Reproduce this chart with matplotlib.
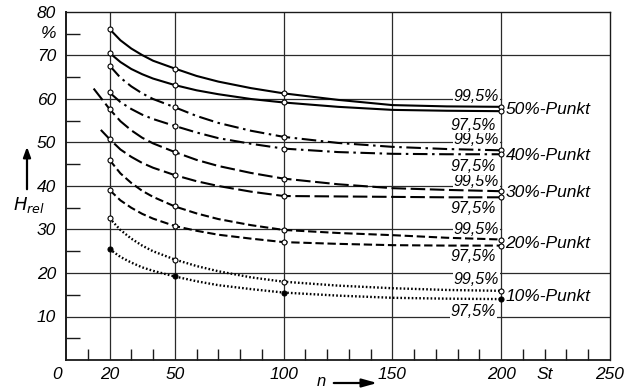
import matplotlib
matplotlib.use("Agg")
import matplotlib.pyplot as plt
import matplotlib.patches as mpatches

# ---- data ----
n_vals = [20, 25, 30, 35, 40, 50, 60, 70, 85, 100, 125, 150, 175, 200]
marker_n = [20, 50, 100, 200]

p50_995 = [76.1, 73.5, 71.6, 70.1, 68.8, 67.0, 65.3, 64.0, 62.5, 61.3, 59.8, 58.6, 58.3, 58.2]
p50_975 = [70.6, 68.5, 66.9, 65.7, 64.7, 63.2, 62.0, 61.1, 60.0, 59.2, 58.2, 57.5, 57.3, 57.2]
p40_995 = [67.7, 64.9, 62.9, 61.3, 60.0, 58.1, 56.1, 54.5, 52.7, 51.3, 49.9, 49.0, 48.5, 48.2]
p40_975 = [61.5, 59.3, 57.7, 56.4, 55.4, 53.8, 52.3, 51.0, 49.7, 48.6, 47.8, 47.4, 47.3, 47.3]
p30_995 = [57.7, 54.9, 52.8, 51.1, 49.8, 47.8, 46.0, 44.6, 43.0, 41.7, 40.4, 39.5, 39.1, 38.8]
p30_975 = [50.8, 48.4, 46.7, 45.3, 44.2, 42.5, 41.1, 40.0, 38.7, 37.7, 37.6, 37.5, 37.4, 37.4]
p20_995 = [46.0, 42.9, 40.7, 38.9, 37.5, 35.3, 33.7, 32.4, 31.0, 29.9, 29.2, 28.7, 28.1, 27.7]
p20_975 = [39.1, 36.7, 35.0, 33.6, 32.5, 30.8, 29.7, 28.8, 27.9, 27.1, 26.7, 26.4, 26.3, 26.3]
p10_995 = [32.6, 29.9, 27.9, 26.3, 25.0, 23.1, 21.6, 20.4, 19.0, 18.0, 17.1, 16.5, 16.1, 15.9]
p10_975 = [25.5, 23.7, 22.4, 21.3, 20.5, 19.2, 18.1, 17.2, 16.3, 15.5, 14.8, 14.3, 14.1, 14.0]

# lead-in points of the 30 % curves (they start left of n = 20)
p30_995_lead = ([12.7], [62.4])
p30_975_lead = ([16.0], [52.9])

punkt_labels = ["50%-Punkt", "40%-Punkt", "30%-Punkt", "20%-Punkt", "10%-Punkt"]
punkt_y = [57.5, 47.1, 38.5, 26.8, 14.7]
lbl995_y = [60.5, 50.6, 41.0, 30.1, 18.4]
lbl975_y = [54.0, 44.4, 34.9, 23.8, 11.1]

x_ticks = [20, 50, 100, 150, 200, 250]
y_ticks = [10, 20, 30, 40, 50, 60, 70, 80]

# ---- figure ----
W, H = 634, 391
fig = plt.figure(figsize=(W / 100, H / 100), dpi=100)
ax = fig.add_axes([66 / W, 1 - 360 / H, (610 - 66) / W, (360 - 12) / H])
ax.set_xlim(0, 250)
ax.set_ylim(0, 80)

FONT = ['Liberation Sans', 'DejaVu Sans']
fkw = dict(family=FONT, style='italic')

# grid
gcol = '#2a2a2a'
for xv in [20, 50, 100, 150, 200]:
    ax.axvline(xv, color=gcol, lw=0.9, zorder=1)
for yv in [10, 20, 70]:
    ax.axhline(yv, color=gcol, lw=0.9, zorder=1)
for yv in [30, 40, 50, 60]:
    ax.axhline(yv, xmin=0, xmax=200 / 250, color=gcol, lw=0.9, zorder=1)

for sp in ax.spines.values():
    sp.set_linewidth(1.0)
    sp.set_color('#1a1a1a')
ax.spines['left'].set_linewidth(1.4)
ax.spines['bottom'].set_linewidth(1.3)

# ticks: only inner minor ticks
ax.set_xticks(x_ticks)
ax.set_xticklabels([str(v) for v in x_ticks], **fkw, fontsize=12.5)
ax.set_yticks(y_ticks)
ax.set_yticklabels([str(v) for v in y_ticks], **fkw, fontsize=12.5)
ax.tick_params(axis='x', which='major', length=0, pad=5)
ax.tick_params(axis='y', which='major', length=0, pad=7)
ax.set_xticks([v for v in range(10, 250, 10) if v not in (20, 50, 100, 150, 200)], minor=True)
ax.set_yticks(list(range(5, 80, 10)), minor=True)
ax.tick_params(axis='x', which='minor', direction='in', length=8, width=1.0, color='#1a1a1a')
ax.tick_params(axis='y', which='minor', direction='in', length=10, width=1.0, color='#1a1a1a')

styles = {
    '50': dict(linestyle='-', lw=1.5),
    '40': dict(linestyle=(0, (7, 2.2, 1.2, 2.2)), lw=1.5),
    '30': dict(linestyle=(0, (7, 2.2)), lw=1.5),
    '20': dict(linestyle=(0, (4, 1.8)), lw=1.5),
    '10': dict(linestyle=(0, (0.7, 0.9)), lw=1.7),
}
series = [
    ('50', p50_995, None), ('50', p50_975, None),
    ('40', p40_995, None), ('40', p40_975, None),
    ('30', p30_995, p30_995_lead), ('30', p30_975, p30_975_lead),
    ('20', p20_995, None), ('20', p20_975, None),
    ('10', p10_995, None), ('10', p10_975, None),
]
for key, ys, lead in series:
    xs = list(n_vals)
    yy = list(ys)
    if lead is not None:
        xs = lead[0] + xs
        yy = lead[1] + yy
    ax.plot(xs, yy, color='black', zorder=3, solid_capstyle='butt',
            dash_capstyle='butt', **styles[key])
    mx = list(marker_n)
    my = [ys[n_vals.index(x)] for x in marker_n]
    face = 'black' if ys is p10_975 else 'white'
    ax.plot(mx, my, linestyle='none', marker='o', ms=3.6, mfc=face,
            mec='black', mew=0.8, zorder=4)

# labels at the right
for lab, yp in zip(punkt_labels, punkt_y):
    ax.text(202, yp, lab, ha='left', va='center', fontsize=12.5, zorder=5,
            bbox=dict(boxstyle='square,pad=0.05', fc='white', ec='none'), **fkw)
for yp in lbl995_y:
    ax.text(199, yp, "99,5%", ha='right', va='center', fontsize=11.5, zorder=2.5,
            bbox=dict(boxstyle='square,pad=0.05', fc='white', ec='none'), **fkw)
for yp in lbl975_y:
    ax.text(197.5, yp, "97,5%", ha='right', va='center', fontsize=11.5, zorder=2.5,
            bbox=dict(boxstyle='square,pad=0.05', fc='white', ec='none'), **fkw)

# extra axis annotations
ax.annotate("0", xy=(0, 0), xytext=(-3, -5), textcoords='offset points',
            ha='right', va='top', fontsize=12.5, annotation_clip=False, **fkw)
ax.annotate("St", xy=(220, 0), xytext=(0, -5), textcoords='offset points',
            ha='center', va='top', fontsize=12.5, annotation_clip=False, **fkw)
ax.annotate("%", xy=(0, 75), xytext=(-7, 0), textcoords='offset points',
            ha='right', va='center', fontsize=12.5, annotation_clip=False, **fkw)

# y label with upward arrow
fig.text(13 / W, 1 - 205 / H, r"$H_{\mathit{rel}}$", ha='left', va='center', fontsize=13)
fig.patches.append(mpatches.FancyArrowPatch(
    (27 / W, 1 - 192 / H), (27 / W, 1 - 144 / H), transform=fig.transFigure,
    arrowstyle='-|>,head_length=6,head_width=2.2', color='black', lw=1.6,
    mutation_scale=1))

# x label with arrow
fig.text(317 / W, 1 - 382 / H, "n", ha='left', va='center', fontsize=12, **fkw)
fig.patches.append(mpatches.FancyArrowPatch(
    (331 / W, 1 - 383 / H), (380 / W, 1 - 383 / H), transform=fig.transFigure,
    arrowstyle='-|>,head_length=9,head_width=2.5', color='black', lw=1.6,
    mutation_scale=1))

fig.savefig("out.png", dpi=100, facecolor='white')
